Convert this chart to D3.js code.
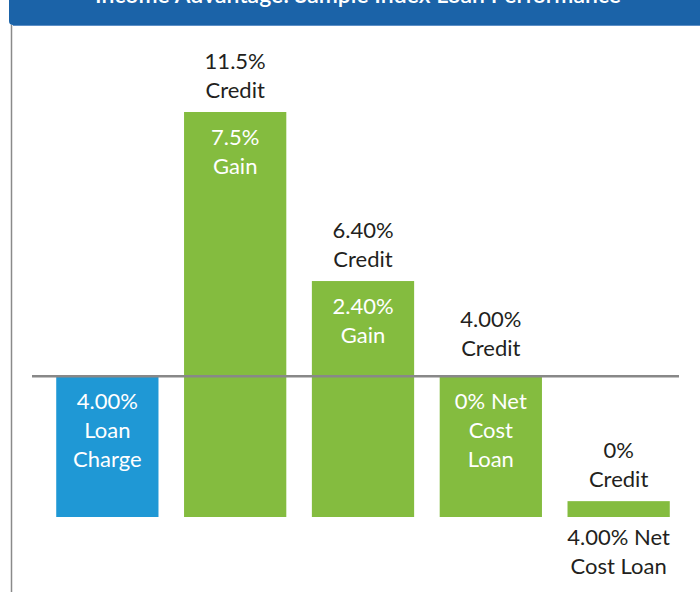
<!DOCTYPE html>
<html>
<head>
<meta charset="utf-8">
<script src="https://cdn.jsdelivr.net/npm/d3@7"></script>
<style>
  body { margin: 0; background: #fff; }
  svg text { font-family: Lato, "Open Sans", sans-serif; }
</style>
</head>
<body>
<div class="chart"></div>
<script>
// bars: from low to high, in %
var categories = ["loan", "credit1", "credit2", "credit3", "credit4"];
var barLow  = [-4.0, -4.0, -4.0, -4.0, -4.0];
var barHigh = [0, 7.5, 2.7, 0, -3.55];
var barColor = ["#1f98d5", "#84bc3f", "#84bc3f", "#84bc3f", "#84bc3f"];
var aboveLabels = [[], ["11.5%", "Credit"], ["6.40%", "Credit"], ["4.00%", "Credit"], ["0%", "Credit"]];
var insideLabels = [["4.00%", "Loan", "Charge"], ["7.5%", "Gain"], ["2.40%", "Gain"], ["0% Net", "Cost", "Loan"], []];
var belowLabels = [[], [], [], [], ["4.00% Net", "Cost Loan"]];
var title = "Income Advantage: Sample Index Loan Performance";

var width = 700, height = 592;

var svg = d3.select(".chart")
  .append("svg")
    .attr("width", width)
    .attr("height", height);

// header banner (title runs off the top edge, as in the source)
svg.append("path")
  .attr("d", "M9,0 H700 V25 H13 Q9,25 9,21 Z")
  .attr("fill", "#1b63a8");
svg.append("line")
  .attr("x1", 13).attr("x2", 700).attr("y1", 25.5).attr("y2", 25.5)
  .attr("stroke", "#5d8fc6").attr("stroke-width", 1);
svg.append("text")
  .attr("x", 358)
  .attr("y", 3)
  .attr("text-anchor", "middle")
  .attr("fill", "#fff")
  .style("font-size", "23px")
  .style("font-weight", "600")
  .text(title);

// left border
svg.append("line")
  .attr("x1", 11.5).attr("x2", 11.5).attr("y1", 25).attr("y2", height)
  .attr("stroke", "#8a8a8a").attr("stroke-width", 1.5);

var x = d3.scaleBand()
  .domain(categories)
  .range([46, 680])
  .paddingInner(0.2)
  .paddingOuter(0.08);

var y = d3.scaleLinear()
  .domain([-4, 7.5])
  .range([517, 112]);

// bars
svg.selectAll(".bar")
  .data(categories)
  .enter()
  .append("rect")
    .attr("class", "bar")
    .attr("x", function(d) { return x(d); })
    .attr("width", x.bandwidth())
    .attr("y", function(d, i) { return y(barHigh[i]); })
    .attr("height", function(d, i) { return y(barLow[i]) - y(barHigh[i]); })
    .attr("fill", function(d, i) { return barColor[i]; });

// zero line
svg.append("line")
  .attr("x1", 32).attr("x2", 679)
  .attr("y1", y(0)).attr("y2", y(0))
  .attr("stroke", "#888").attr("stroke-width", 2.5);

var lineH = 29, fs = "22px";

categories.forEach(function(c, i) {
  var cx = x(c) + x.bandwidth() / 2;
  var top = y(barHigh[i]), bottom = y(barLow[i]);
  var gap = barHigh[i] === 0 ? 20 : 14;

  var above = aboveLabels[i];
  above.forEach(function(t, j) {
    svg.append("text")
      .attr("x", cx)
      .attr("y", top - gap - (above.length - 1 - j) * lineH)
      .attr("text-anchor", "middle")
      .attr("fill", "#231f20")
      .style("font-size", fs)
      .text(t);
  });

  insideLabels[i].forEach(function(t, j) {
    svg.append("text")
      .attr("x", cx)
      .attr("y", top + 33 + j * lineH)
      .attr("text-anchor", "middle")
      .attr("fill", "#fff")
      .style("font-size", fs)
      .text(t);
  });

  belowLabels[i].forEach(function(t, j) {
    svg.append("text")
      .attr("x", cx)
      .attr("y", bottom + 28 + j * lineH)
      .attr("text-anchor", "middle")
      .attr("fill", "#231f20")
      .style("font-size", fs)
      .text(t);
  });
});
</script>
</body>
</html>
